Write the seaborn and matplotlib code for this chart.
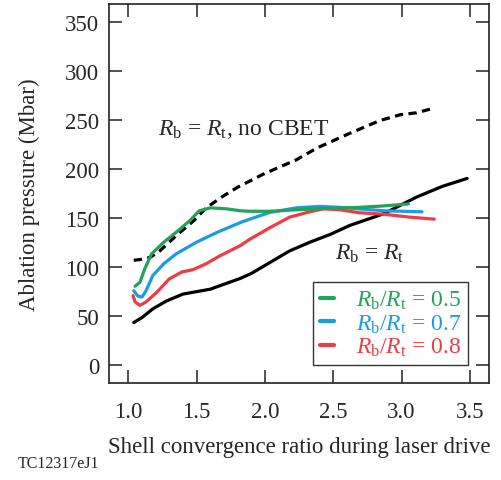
import numpy as np
import pandas as pd
import matplotlib
matplotlib.use("Agg")
import matplotlib.pyplot as plt
import seaborn as sns

# values
x_bt = [1.04, 1.10, 1.18, 1.28, 1.40, 1.50, 1.60, 1.70, 1.82, 1.90, 2.04, 2.18, 2.33,
        2.48, 2.62, 2.87, 3.11, 3.30, 3.48]
y_bt = [43, 48, 57, 65, 72, 74.5, 77, 82, 88, 93, 104.5, 116, 125,
        133, 142, 154, 171, 182, 190]

x_nocbet = [1.04, 1.10, 1.16, 1.23, 1.35, 1.48, 1.57, 1.70, 1.80, 1.99, 2.13, 2.23,
            2.38, 2.62, 2.84, 2.99, 3.11, 3.23]
y_nocbet = [106.5, 107.5, 109.5, 116, 131.5, 147, 160, 172.5, 181, 194.5, 203, 209,
            221, 236, 249, 255, 257, 261.5]

x_05 = [1.05, 1.085, 1.12, 1.17, 1.26, 1.35, 1.45, 1.52, 1.60, 1.72, 1.82, 1.89,
        2.04, 2.23, 2.47, 2.69, 2.87, 3.05]
y_05 = [80, 84, 97.5, 113, 125, 135, 147, 157, 160, 159, 157, 156.5,
        156.5, 158, 159.5, 160.5, 162, 164]

x_07 = [1.04, 1.07, 1.10, 1.13, 1.18, 1.26, 1.35, 1.50, 1.65, 1.82, 1.89, 2.04,
        2.23, 2.40, 2.55, 2.69, 2.87, 3.15]
y_07 = [75.5, 70, 69, 75.5, 91, 103, 113, 125, 135, 145, 148.5, 155.5,
        160, 161.5, 160.5, 159, 157, 156]

x_08 = [1.035, 1.05, 1.085, 1.13, 1.21, 1.30, 1.39, 1.475, 1.57, 1.67, 1.82, 1.89,
        2.04, 2.18, 2.33, 2.43, 2.55, 2.69, 2.87, 3.06, 3.24]
y_08 = [70.5, 64, 60.5, 64, 74, 87.5, 94.5, 97, 103, 111, 121.5, 128,
        140, 150.5, 156, 159, 158, 155, 153.5, 150.5, 148.5]

x_ticks = [1.0, 1.5, 2.0, 2.5, 3.0, 3.5]
y_ticks = [0, 50, 100, 150, 200, 250, 300, 350]
legend_labels = [r"$R_\mathrm{b}/R_\mathrm{t}$ = 0.5",
                 r"$R_\mathrm{b}/R_\mathrm{t}$ = 0.7",
                 r"$R_\mathrm{b}/R_\mathrm{t}$ = 0.8"]

green = "#21a35b"
blue = "#1d9be0"
red = "#ef3b44"

sns.set_style("ticks")
plt.rcParams["font.family"] = ["Liberation Serif", "DejaVu Serif"]
plt.rcParams["mathtext.fontset"] = "custom"
plt.rcParams["mathtext.rm"] = "Liberation Serif"
plt.rcParams["mathtext.it"] = "Liberation Serif:italic"
plt.rcParams["axes.unicode_minus"] = False

fig = plt.figure(figsize=(5.01, 4.81), dpi=100)
ax = fig.add_axes([0.2176, 0.2017, 0.7584, 0.7879])

lw = 2.3
sns.lineplot(x=x_nocbet, y=y_nocbet, ax=ax, color="black", lw=lw, sort=False,
             estimator=None, linestyle=(0, (2.6, 1.7)))
sns.lineplot(x=x_bt, y=y_bt, ax=ax, color="black", lw=lw, sort=False, estimator=None)
sns.lineplot(x=x_08, y=y_08, ax=ax, color=red, lw=lw, sort=False, estimator=None,
             label=legend_labels[2])
sns.lineplot(x=x_07, y=y_07, ax=ax, color=blue, lw=lw, sort=False, estimator=None,
             label=legend_labels[1])
sns.lineplot(x=x_05, y=y_05, ax=ax, color=green, lw=lw, sort=False, estimator=None,
             label=legend_labels[0])

ax.set_xlim(0.859, 3.64)
ax.set_ylim(-18.7, 368)
ax.set_xticks(x_ticks)
ax.set_xticklabels([f"{v:.1f}" for v in x_ticks])
ax.set_yticks(y_ticks)
ax.set_yticklabels([str(v) for v in y_ticks])

for s in ax.spines.values():
    s.set_linewidth(1.2)
    s.set_color("#222222")
ax.tick_params(direction="in", length=9.5, width=1.1, labelsize=16.5,
               top=True, right=True, color="#222222")
ax.tick_params(axis="x", pad=13)
ax.tick_params(axis="y", pad=7)

ax.set_xlabel("Shell convergence ratio during laser drive", fontsize=16.5, labelpad=10)
ax.set_ylabel("Ablation pressure (Mbar)", fontsize=16.5, labelpad=18)

ax.text(1.217, 235, r"$R_\mathrm{b}$ = $R_\mathrm{t}$, no CBET", fontsize=17,
        va="baseline", ha="left")
ax.text(2.51, 108, r"$R_\mathrm{b}$ = $R_\mathrm{t}$", fontsize=17,
        va="baseline", ha="left")

handles, labels = ax.get_legend_handles_labels()
order = [2, 1, 0]
leg = ax.legend([handles[i] for i in order], [labels[i] for i in order],
                loc="lower right", bbox_to_anchor=(0.945, 0.047), borderaxespad=0,
                fontsize=17, frameon=True, fancybox=False, handlelength=0.6,
                handletextpad=0.9, labelspacing=0.05, borderpad=0.3)
leg.get_frame().set_edgecolor("black")
leg.get_frame().set_linewidth(1.0)
for txt, c in zip(leg.get_texts(), [green, blue, red]):
    txt.set_color(c)
for h in leg.get_lines():
    h.set_linewidth(3)

fig.text(0.036, 0.018, "TC12317eJ1", fontsize=11.5, ha="left", va="bottom")

fig.savefig("out.png", dpi=100)
